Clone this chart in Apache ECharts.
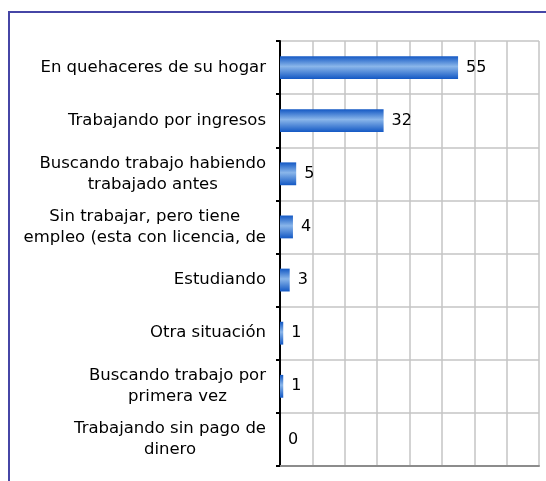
<!DOCTYPE html>
<html>
<head>
<meta charset="utf-8">
<script src="https://cdn.jsdelivr.net/npm/echarts@6/dist/echarts.min.js"></script>
<style>
  html, body { margin: 0; padding: 0; background: #fff; }
  #chart { width: 546px; height: 481px; }
</style>
</head>
<body>
<div id="chart"></div>
<script>
// categorías (de arriba hacia abajo)
const categories = [
  'En quehaceres de su hogar',
  'Trabajando por ingresos',
  'Buscando trabajo habiendo\ntrabajado antes',
  'Sin trabajar, pero tiene\nempleo (esta con licencia, de',
  'Estudiando',
  'Otra situación',
  'Buscando trabajo por\nprimera vez',
  'Trabajando sin pago de\ndinero'
]
const values = [55, 32, 5, 4, 3, 1, 1, 0]

const chart = echarts.init(document.getElementById('chart'))

const barGradient = new echarts.graphic.LinearGradient(0, 0, 0, 1, [
  { offset: 0, color: '#1358c4' },
  { offset: 0.45, color: '#8ab6ea' },
  { offset: 1, color: '#1358c4' }
])

chart.setOption({
  animation: false,
  textStyle: { fontFamily: 'DejaVu Sans' },
  graphic: [
    {
      type: 'rect',
      shape: { x: 9, y: 12, width: 600, height: 600 },
      style: { fill: 'none', stroke: '#4646a6', lineWidth: 2 },
      silent: true
    }
  ],
  grid: { left: 280, top: 41, right: 7, bottom: 15 },
  xAxis: {
    type: 'value',
    min: 0,
    max: 80,
    interval: 10,
    axisLabel: { show: false },
    axisTick: { show: false },
    axisLine: { show: true, lineStyle: { color: '#8c8c8c', width: 2 } },
    splitLine: { show: true, lineStyle: { color: '#c4c4c4', width: 1.5 } }
  },
  yAxis: {
    type: 'category',
    inverse: true,
    data: categories,
    axisLine: { show: true, lineStyle: { color: '#000', width: 2 } },
    axisTick: { show: true, length: 4, lineStyle: { color: '#000', width: 2 } },
    splitLine: { show: true, lineStyle: { color: '#c4c4c4', width: 1.5 } },
    axisLabel: {
      margin: 14,
      color: '#000',
      fontSize: 16.5,
      formatter: v => v.split('\n').map(s => '{c|' + s + '}').join('\n'),
      rich: {
        c: { align: 'center', fontSize: 16.5, lineHeight: 21, color: '#000', fontFamily: 'DejaVu Sans' }
      }
    }
  },
  series: [
    {
      type: 'bar',
      data: values,
      barWidth: '43%',
      itemStyle: { color: barGradient },
      label: {
        show: true,
        position: 'right',
        distance: 8,
        color: '#000',
        fontSize: 16,
        fontFamily: 'DejaVu Sans'
      }
    }
  ]
})
</script>
</body>
</html>
